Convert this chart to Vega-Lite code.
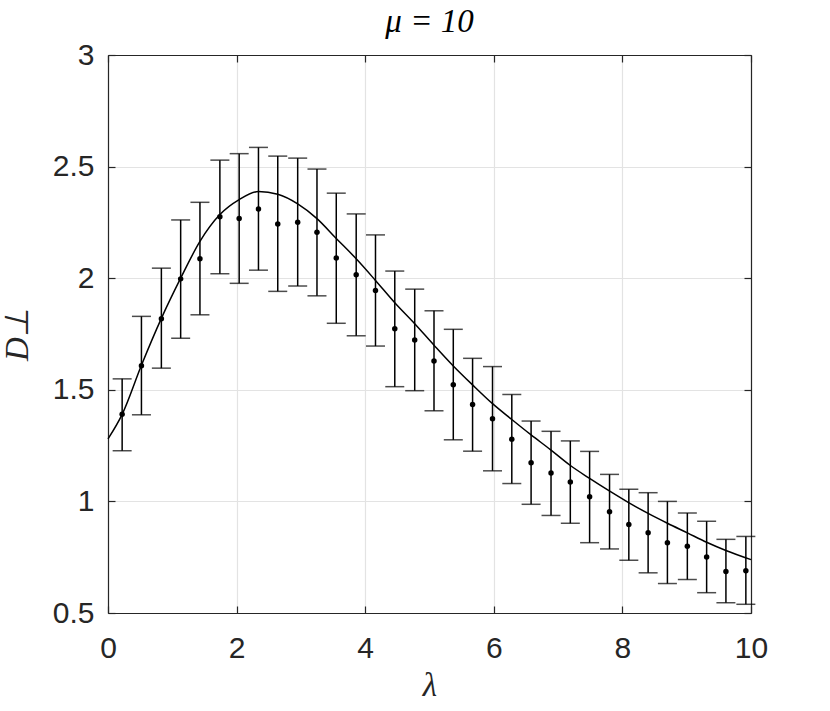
{
  "$schema": "https://vega.github.io/schema/vega-lite/v6.json",
  "width": 643,
  "height": 558,
  "autosize": "none",
  "padding": {"left": 108, "top": 55, "right": 79, "bottom": 98},
  "background": "white",
  "config": {
    "view": {"stroke": null},
    "axis": {
      "labelFont": "Liberation Sans",
      "labelFontSize": 30,
      "labelColor": "#262626",
      "labelFlush": false,
      "labelOverlap": false,
      "domainColor": "#262626",
      "domainWidth": 1.2,
      "tickColor": "#262626",
      "tickWidth": 1.2,
      "gridColor": "#e3e3e3",
      "gridWidth": 1.2,
      "titleFont": "Liberation Serif",
      "titleFontStyle": "italic",
      "titleFontWeight": "normal",
      "titleFontSize": 33,
      "titleColor": "#262626"
    }
  },
  "title": {
    "text": "μ = 10",
    "font": "Liberation Serif",
    "fontStyle": "italic",
    "fontWeight": "normal",
    "fontSize": 33,
    "color": "#000000",
    "offset": 1
  },
  "datasets": {
    "pts": [
      {"x": 0.22, "y": 1.39, "lo": 1.227, "hi": 1.549},
      {"x": 0.52, "y": 1.608, "lo": 1.388, "hi": 1.829},
      {"x": 0.83, "y": 1.818, "lo": 1.597, "hi": 2.045},
      {"x": 1.13, "y": 1.997, "lo": 1.731, "hi": 2.261},
      {"x": 1.43, "y": 2.087, "lo": 1.836, "hi": 2.34},
      {"x": 1.74, "y": 2.275, "lo": 2.02, "hi": 2.529},
      {"x": 2.04, "y": 2.267, "lo": 1.977, "hi": 2.558},
      {"x": 2.34, "y": 2.31, "lo": 2.036, "hi": 2.586},
      {"x": 2.64, "y": 2.243, "lo": 1.941, "hi": 2.547},
      {"x": 2.95, "y": 2.251, "lo": 1.965, "hi": 2.538},
      {"x": 3.25, "y": 2.206, "lo": 1.921, "hi": 2.489},
      {"x": 3.55, "y": 2.09, "lo": 1.798, "hi": 2.381},
      {"x": 3.86, "y": 2.015, "lo": 1.742, "hi": 2.288},
      {"x": 4.16, "y": 1.945, "lo": 1.696, "hi": 2.194},
      {"x": 4.46, "y": 1.774, "lo": 1.514, "hi": 2.032},
      {"x": 4.77, "y": 1.723, "lo": 1.496, "hi": 1.951},
      {"x": 5.07, "y": 1.629, "lo": 1.406, "hi": 1.854},
      {"x": 5.37, "y": 1.523, "lo": 1.276, "hi": 1.771},
      {"x": 5.67, "y": 1.434, "lo": 1.225, "hi": 1.641},
      {"x": 5.98, "y": 1.37, "lo": 1.137, "hi": 1.604},
      {"x": 6.28, "y": 1.279, "lo": 1.08, "hi": 1.479},
      {"x": 6.58, "y": 1.173, "lo": 0.987, "hi": 1.36},
      {"x": 6.89, "y": 1.127, "lo": 0.937, "hi": 1.314},
      {"x": 7.19, "y": 1.087, "lo": 0.902, "hi": 1.271},
      {"x": 7.49, "y": 1.021, "lo": 0.815, "hi": 1.224},
      {"x": 7.8, "y": 0.954, "lo": 0.787, "hi": 1.121},
      {"x": 8.1, "y": 0.896, "lo": 0.736, "hi": 1.054},
      {"x": 8.4, "y": 0.86, "lo": 0.68, "hi": 1.039},
      {"x": 8.7, "y": 0.815, "lo": 0.632, "hi": 1.0},
      {"x": 9.01, "y": 0.799, "lo": 0.65, "hi": 0.948},
      {"x": 9.31, "y": 0.751, "lo": 0.591, "hi": 0.911},
      {"x": 9.61, "y": 0.686, "lo": 0.546, "hi": 0.83},
      {"x": 9.92, "y": 0.689, "lo": 0.539, "hi": 0.843}
    ],
    "curve": [
      {"x": 0, "y": 1.28},
      {"x": 0.22, "y": 1.39},
      {"x": 0.52, "y": 1.61},
      {"x": 0.83, "y": 1.82},
      {"x": 1.13, "y": 2.0},
      {"x": 1.43, "y": 2.165},
      {"x": 1.74, "y": 2.285},
      {"x": 2.04, "y": 2.352},
      {"x": 2.34, "y": 2.388},
      {"x": 2.64, "y": 2.376},
      {"x": 2.95, "y": 2.333},
      {"x": 3.25, "y": 2.267},
      {"x": 3.55, "y": 2.178},
      {"x": 3.86, "y": 2.087},
      {"x": 4.16, "y": 1.99},
      {"x": 4.46, "y": 1.89},
      {"x": 4.77, "y": 1.796},
      {"x": 5.07, "y": 1.7},
      {"x": 5.37, "y": 1.607},
      {"x": 5.67, "y": 1.522},
      {"x": 5.98, "y": 1.438},
      {"x": 6.28, "y": 1.367},
      {"x": 6.58, "y": 1.298},
      {"x": 6.88, "y": 1.232},
      {"x": 7.18, "y": 1.163},
      {"x": 7.49, "y": 1.103},
      {"x": 7.79, "y": 1.048},
      {"x": 8.09, "y": 0.996},
      {"x": 8.4, "y": 0.946},
      {"x": 8.7, "y": 0.902},
      {"x": 9.01, "y": 0.859},
      {"x": 9.31, "y": 0.817},
      {"x": 9.61, "y": 0.78},
      {"x": 10, "y": 0.739}
    ]
  },
  "resolve": {"axis": {"x": "independent", "y": "independent"}},
  "layer": [
    {
      "data": {"name": "curve"},
      "mark": {"type": "line", "color": "black", "strokeWidth": 1.5, "interpolate": "monotone"},
      "encoding": {
        "x": {
          "field": "x", "type": "quantitative",
          "scale": {"domain": [0, 10], "nice": false},
          "axis": {"orient": "bottom", "values": [0, 2, 4, 6, 8, 10], "title": "λ", "tickSize": -7, "labelPadding": 27, "titlePadding": 6, "grid": true}
        },
        "y": {
          "field": "y", "type": "quantitative",
          "scale": {"domain": [0.5, 3], "nice": false, "zero": false},
          "axis": {"orient": "left", "values": [0.5, 1, 1.5, 2, 2.5, 3], "format": "~g", "title": "D⊥", "tickSize": -7, "labelPadding": 21, "titlePadding": 18, "grid": true}
        }
      }
    },
    {
      "data": {"name": "pts"},
      "mark": {"type": "rule", "color": "black", "strokeWidth": 1.5},
      "encoding": {
        "x": {"field": "x", "type": "quantitative", "axis": null},
        "y": {"field": "lo", "type": "quantitative", "axis": null},
        "y2": {"field": "hi"}
      }
    },
    {
      "data": {"name": "pts"},
      "mark": {"type": "tick", "color": "black", "orient": "horizontal", "size": 19, "thickness": 1.5},
      "encoding": {
        "x": {"field": "x", "type": "quantitative", "axis": null},
        "y": {"field": "hi", "type": "quantitative", "axis": null}
      }
    },
    {
      "data": {"name": "pts"},
      "mark": {"type": "tick", "color": "black", "orient": "horizontal", "size": 19, "thickness": 1.5},
      "encoding": {
        "x": {"field": "x", "type": "quantitative", "axis": null},
        "y": {"field": "lo", "type": "quantitative", "axis": null}
      }
    },
    {
      "data": {"name": "pts"},
      "mark": {"type": "point", "filled": true, "color": "black", "opacity": 1, "size": 30, "shape": "circle"},
      "encoding": {
        "x": {
          "field": "x", "type": "quantitative",
          "axis": {"orient": "top", "values": [0, 2, 4, 6, 8, 10], "labels": false, "title": null, "tickSize": -7, "grid": false}
        },
        "y": {
          "field": "y", "type": "quantitative",
          "axis": {"orient": "right", "values": [0.5, 1, 1.5, 2, 2.5, 3], "labels": false, "title": null, "tickSize": -7, "grid": false}
        }
      }
    }
  ]
}
